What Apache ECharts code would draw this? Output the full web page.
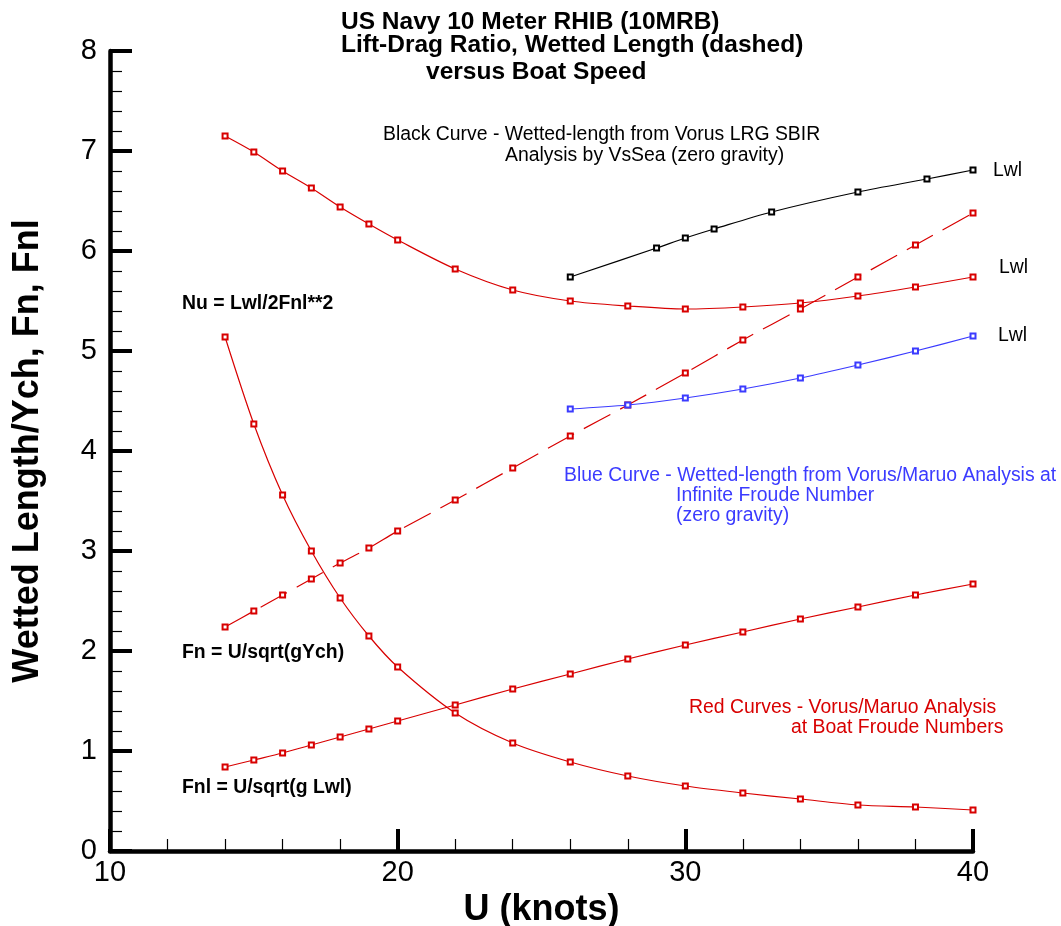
<!DOCTYPE html>
<html>
<head>
<meta charset="utf-8">
<title>US Navy 10 Meter RHIB (10MRB)</title>
<script src="https://cdn.jsdelivr.net/npm/echarts/dist/echarts.min.js"></script>
<style>
  html, body { margin: 0; padding: 0; background: #ffffff; }
  #chart { width: 1061px; height: 926px; }
</style>
</head>
<body>
<div id="chart"></div>
<script>
// Boat speed (knots) for the Vorus/Maruo red curves
const speeds = [14, 15, 16, 17, 18, 19, 20, 22, 24, 26, 28, 30, 32, 34, 36, 38, 40];
// Wetted length / Ych at boat Froude numbers (solid red, upper)
const lwlRed = [7.15, 6.99, 6.80, 6.63, 6.44, 6.27, 6.11, 5.82, 5.61, 5.50, 5.45, 5.42, 5.44, 5.48, 5.55, 5.64, 5.74];
// Fn = U/sqrt(gYch) (dashed red)
const fnRed = [2.24, 2.40, 2.56, 2.72, 2.88, 3.03, 3.20, 3.51, 3.83, 4.15, 4.46, 4.78, 5.11, 5.42, 5.74, 6.06, 6.38];
// Fnl = U/sqrt(g Lwl)
const fnlRed = [0.84, 0.91, 0.98, 1.06, 1.14, 1.22, 1.30, 1.46, 1.62, 1.77, 1.92, 2.06, 2.19, 2.32, 2.44, 2.56, 2.67];
// Nu = Lwl/2Fnl**2
const nuRed = [5.14, 4.27, 3.56, 3.00, 2.53, 2.15, 1.84, 1.38, 1.08, 0.89, 0.75, 0.65, 0.58, 0.52, 0.46, 0.44, 0.41];

// Vorus LRG SBIR / VsSea wetted length (black)
const speedsBlack = [26, 29, 30, 31, 33, 36, 38.4, 40];
const lwlBlack = [5.74, 6.03, 6.13, 6.22, 6.39, 6.59, 6.72, 6.81];

// Vorus/Maruo at infinite Froude number (blue)
const speedsBlue = [26, 28, 30, 32, 34, 36, 38, 40];
const lwlBlue = [4.42, 4.46, 4.53, 4.62, 4.73, 4.86, 5.00, 5.15];

// Axis tick values
const xTicks = [10, 20, 30, 40];
const yTicks = [0, 1, 2, 3, 4, 5, 6, 7, 8];

const RED = '#d80000';
const BLUE = '#3b3bff';
const BLACK = '#000000';

const pair = (xs, ys) => xs.map((x, i) => [x, ys[i]]);

function curve(name, xs, ys, color, dashed) {
  return {
    name: name,
    type: 'line',
    data: pair(xs, ys),
    smooth: 0.3,
    symbol: 'emptyRect',
    symbolSize: 5,
    showSymbol: true,
    lineStyle: { color: color, width: 1.2, type: dashed ? [30, 11] : 'solid' },
    itemStyle: { color: color, borderColor: color, borderWidth: 1 },
    emphasis: { disabled: true },
    z: dashed ? 3 : 4
  };
}

const sans = "'Liberation Sans', Arial, Helvetica, sans-serif";

// Free-standing text; y is the vertical centre of the capital letters
function note(x, y, text, color, opts) {
  opts = opts || {};
  return {
    type: 'text',
    x: x,
    y: y,
    silent: true,
    style: {
      text: text,
      fill: color,
      font: (opts.bold ? 'bold ' : '') + (opts.size || 19.4) + 'px ' + sans,
      align: 'left',
      verticalAlign: 'middle'
    }
  };
}

const chart = echarts.init(document.getElementById('chart'), null, { renderer: 'canvas' });

chart.setOption({
  animation: false,
  backgroundColor: '#ffffff',
  grid: { left: 110, right: 88, top: 51, bottom: 75, containLabel: false, outerBoundsMode: 'none' },
  xAxis: {
    type: 'value',
    min: xTicks[0],
    max: xTicks[xTicks.length - 1],
    interval: 10,
    name: 'U (knots)',
    nameLocation: 'middle',
    nameGap: 36,
    nameTextStyle: { fontFamily: sans, fontWeight: 'bold', fontSize: 36, color: BLACK },
    axisLine: { show: true, lineStyle: { color: BLACK, width: 4.5 } },
    axisTick: { show: true, inside: true, length: 22, lineStyle: { color: BLACK, width: 4 } },
    minorTick: { show: true, splitNumber: 5, length: 12, lineStyle: { color: BLACK, width: 1.2 } },
    axisLabel: { fontFamily: sans, fontSize: 29, color: BLACK, margin: 7 },
    splitLine: { show: false }
  },
  yAxis: {
    type: 'value',
    min: yTicks[0],
    max: yTicks[yTicks.length - 1],
    interval: 1,
    name: 'Wetted Length/Ych, Fn, Fnl',
    nameLocation: 'middle',
    nameGap: 64,
    nameRotate: 90,
    nameTextStyle: { fontFamily: sans, fontWeight: 'bold', fontSize: 36, color: BLACK },
    axisLine: { show: true, lineStyle: { color: BLACK, width: 4.5 } },
    axisTick: { show: true, inside: true, length: 22, lineStyle: { color: BLACK, width: 4 } },
    minorTick: { show: true, splitNumber: 5, length: 12, lineStyle: { color: BLACK, width: 1.2 } },
    axisLabel: { fontFamily: sans, fontSize: 29, color: BLACK, margin: 13 },
    splitLine: { show: false }
  },
  series: [
    curve('Lwl (boat Froude)', speeds, lwlRed, RED, false),
    curve('Fn', speeds, fnRed, RED, true),
    curve('Fnl', speeds, fnlRed, RED, false),
    curve('Nu', speeds, nuRed, RED, false),
    curve('Lwl (VsSea)', speedsBlack, lwlBlack, BLACK, false),
    curve('Lwl (infinite Froude)', speedsBlue, lwlBlue, BLUE, false)
  ],
  graphic: [
    // Title block
    note(341, 22.5, 'US Navy 10 Meter RHIB (10MRB)', BLACK, { bold: true, size: 24.5 }),
    note(341, 45.5, 'Lift-Drag Ratio, Wetted Length (dashed)', BLACK, { bold: true, size: 24.5 }),
    note(426, 72, 'versus Boat Speed', BLACK, { bold: true, size: 24.5 }),

    // Black curve description
    note(383, 134.5, 'Black Curve - Wetted-length from Vorus LRG SBIR', BLACK),
    note(505, 156, 'Analysis by VsSea (zero gravity)', BLACK),

    // Curve end labels
    note(993, 171, 'Lwl', BLACK),
    note(999, 268, 'Lwl', BLACK),
    note(998, 336, 'Lwl', BLACK),

    // Formula labels
    note(182, 304, 'Nu = Lwl/2Fnl**2', BLACK, { bold: true }),
    note(182, 653, 'Fn = U/sqrt(gYch)', BLACK, { bold: true }),
    note(182, 788, 'Fnl = U/sqrt(g Lwl)', BLACK, { bold: true }),

    // Blue curve description
    note(564, 476, 'Blue Curve - Wetted-length from Vorus/Maruo Analysis at', BLUE),
    note(676, 496, 'Infinite Froude Number', BLUE),
    note(676, 516, '(zero gravity)', BLUE),

    // Red curve description
    note(689, 708, 'Red Curves - Vorus/Maruo Analysis', RED),
    note(791, 728, 'at Boat Froude Numbers', RED)
  ]
});
</script>
</body>
</html>
